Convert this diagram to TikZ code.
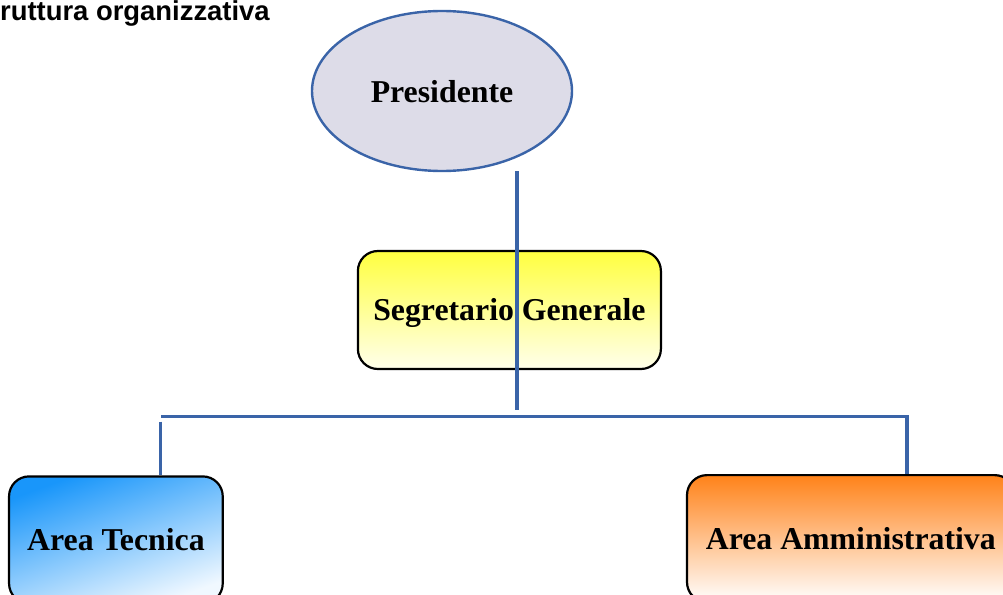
\documentclass[tikz,border=0pt]{standalone}
\usepackage{fontspec}
\usetikzlibrary{shapes.geometric}
\setmainfont{Liberation Serif}
\newfontfamily\titlefont{Liberation Sans}
\definecolor{linkblue}{RGB}{58,100,168}
\definecolor{ellfill}{RGB}{221,220,232}
\definecolor{yeltop}{RGB}{255,255,64}
\definecolor{yelbot}{RGB}{255,255,235}
\definecolor{bluetop}{RGB}{25,150,250}
\definecolor{bluebot}{RGB}{240,248,255}
\definecolor{orgtop}{RGB}{255,130,25}
\definecolor{orgbot}{RGB}{255,255,255}
\begin{document}
\begin{tikzpicture}[x=1pt,y=-1pt,
  lbl/.style={font=\bfseries\fontsize{31.8}{36}\selectfont, text height=21pt, text depth=0pt, inner sep=0pt},
  orgbox/.style={lbl, draw=black, line width=2.2pt, rounded corners=20pt},
  link/.style={draw=linkblue, line width=3.5pt}]
\clip (0,0) rectangle (1003,594);
\node[anchor=base west, inner sep=0pt, font=\titlefont\bfseries\fontsize{27.4}{32}\selectfont] (title) at (0,21) {ruttura organizzativa};
\node[lbl, ellipse, draw=linkblue, line width=2.4pt, fill=ellfill, minimum width=260pt, minimum height=160pt] (pres) at (442,91) {};
\node[lbl] (prestext) at (442,92) {Presidente};
\node[orgbox, top color=yeltop, bottom color=yelbot, minimum width=303pt, minimum height=118pt] (seg) at (509.4,310) {Segretario Generale};
\node[orgbox, anchor=north, top color=bluetop, bottom color=bluebot, shading angle=20, minimum width=213.7pt, minimum height=127pt] (tec) at (115.9,475.3) {Area Tecnica};
\node[orgbox, anchor=north, top color=orgtop, bottom color=orgbot, minimum width=327.6pt, minimum height=127pt] (amm) at (850.8,474) {Area Amministrativa};
\coordinate (pdown) at (517,171);
\coordinate (pend) at (517,410);
\coordinate (hleft) at (161,416.5);
\coordinate (hright) at (907,416.5);
\coordinate (ltop) at (160.5,421.5);
\draw[link] (pdown) -- (pend);
\draw[link] (hleft) -- (hright) -- (hright |- amm.north);
\draw[link] (ltop) -- (ltop |- tec.north);
\end{tikzpicture}
\end{document}
